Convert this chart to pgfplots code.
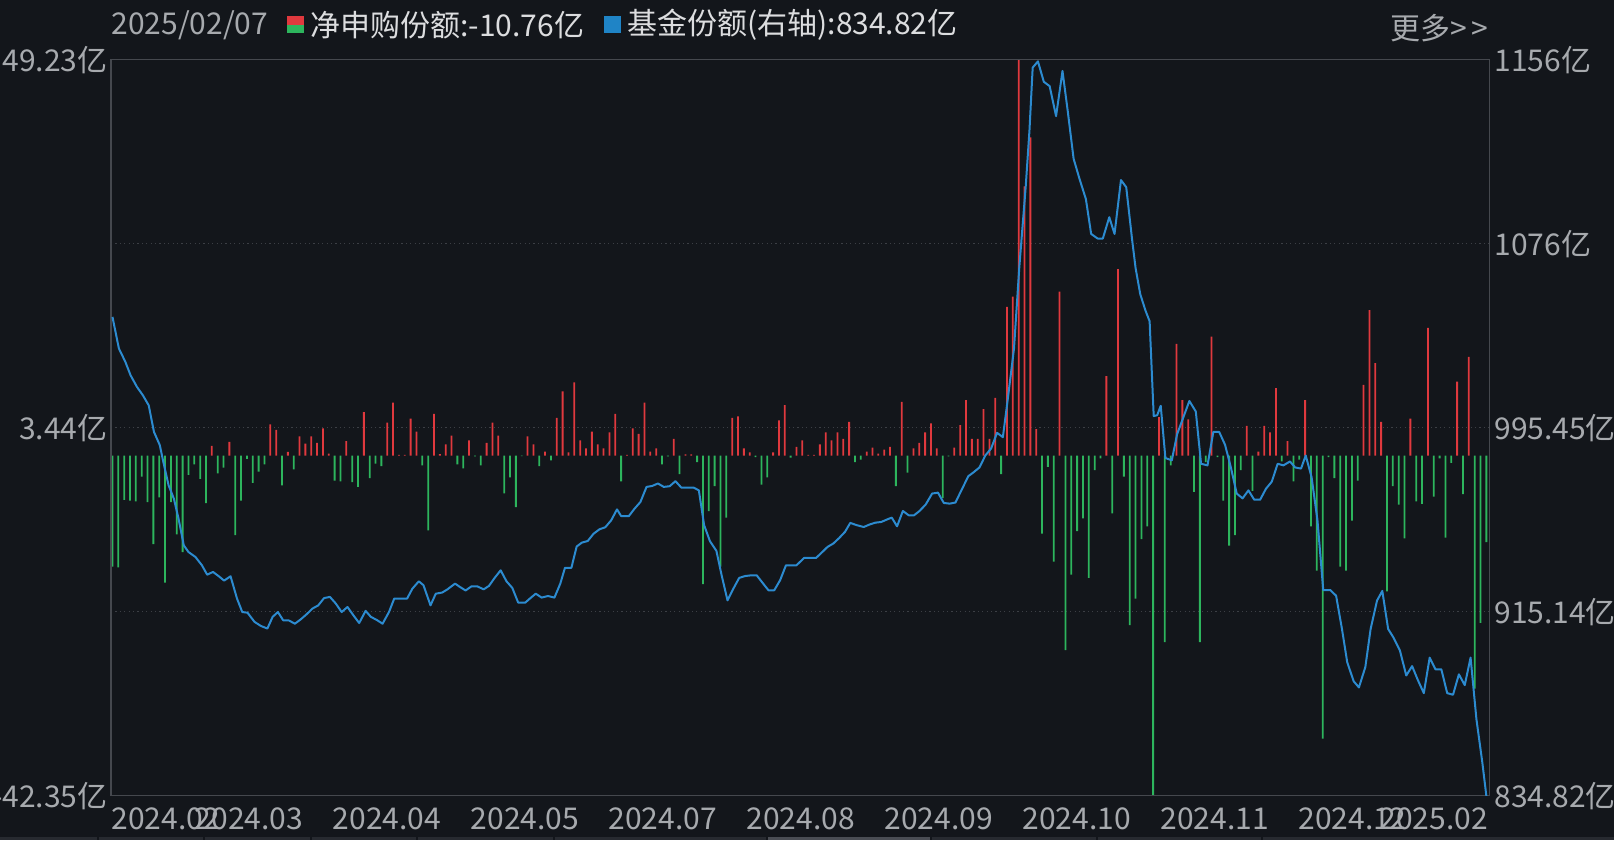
\documentclass[border=0pt]{standalone}
\usepackage{pgfplots}
\pgfplotsset{compat=1.18}
\usepackage{pgfplotstable}
\usepackage{fontspec}
\setmainfont{Noto Sans CJK SC}

\definecolor{bg}{HTML}{13161B}
\definecolor{framec}{HTML}{45484E}
\definecolor{gridc}{HTML}{3C3F45}
\definecolor{lbl}{HTML}{A7AAAE}
\definecolor{txt}{HTML}{DCDDDF}
\definecolor{upred}{HTML}{E0393E}
\definecolor{dngreen}{HTML}{2DB55D}
\definecolor{lineblue}{HTML}{2C8BD0}
\definecolor{keyblue}{HTML}{1F84C6}
\definecolor{strip}{HTML}{272A30}
\definecolor{stripsel}{HTML}{4A4D54}

% net subscription per trading day (yi shares)
\pgfplotstableread{
x y
0 -13.8
1 -13.9
2 -5.5
3 -5.6
4 -5.7
5 -2.6
6 -5.8
7 -11.0
8 -5.2
9 -15.8
10 -5.8
11 -9.8
12 -12.0
13 -2.4
14 -1.1
15 -2.9
16 -5.9
17 1.2
18 -2.2
19 -1.5
20 1.7
21 -9.9
22 -5.6
23 -0.4
24 -3.4
25 -2.0
26 -1.1
27 3.9
28 3.2
29 -3.7
30 0.46
31 -1.7
32 2.4
33 1.5
34 2.4
35 1.6
36 3.4
37 0.25
38 -3.1
39 -3.2
40 1.8
41 -3.3
42 -3.9
43 5.4
44 -2.8
45 -1.0
46 -1.3
47 4.1
48 6.6
49 0.1
50 0.1
51 4.6
52 3.0
53 -1.2
54 -9.3
55 5.2
56 0.2
57 1.4
58 2.5
59 -1.1
60 -1.6
61 1.9
62 -0.1
63 -1.2
64 1.6
65 4.1
66 2.5
67 -4.7
68 -2.7
69 -6.4
70 -0.05
71 2.4
72 1.4
73 -1.3
74 0.5
75 -0.6
76 4.7
77 8.0
78 0.4
79 9.1
80 1.9
81 0.9
82 3.0
83 1.4
84 0.9
85 2.9
86 5.2
87 -3.2
88 0.1
89 3.4
90 2.7
91 6.6
92 0.5
93 0.9
94 -1.1
95 -0.1
96 2.1
97 -2.3
98 0.15
99 0.15
100 -0.8
101 -16.0
102 -6.9
103 -3.8
104 -13.8
105 -7.7
106 4.7
107 4.9
108 0.9
109 0.4
110 -0.2
111 -3.6
112 -2.7
113 0.4
114 4.4
115 6.3
116 -0.25
117 1.1
118 1.9
119 0.1
120 0.1
121 1.4
122 2.9
123 1.9
124 2.9
125 2.1
126 4.2
127 -0.8
128 -0.5
129 0.5
130 1.0
131 0.25
132 0.75
133 1.1
134 -3.8
135 6.7
136 -2.1
137 0.9
138 1.6
139 2.9
140 4.0
141 0.9
142 -5.3
143 -0.1
144 1.0
145 3.8
146 6.9
147 2.1
148 2.1
149 5.8
150 2.1
151 7.2
152 -2.3
153 18.5
154 19.8
155 49.23
156 33.5
157 39.6
158 3.3
159 -9.7
160 -1.4
161 -13.2
162 20.4
163 -24.2
164 -14.8
165 -9.4
166 -7.8
167 -15.2
168 -1.8
169 -0.35
170 9.9
171 -7.2
172 23.2
173 -2.6
174 -21.1
175 -17.8
176 -10.4
177 -8.8
178 -42.35
179 4.8
180 -23.2
181 -1.2
182 13.9
183 6.9
184 4.5
185 -4.5
186 -23.2
187 -0.8
188 14.8
189 -0.2
190 -5.6
191 -11.2
192 -9.9
193 -1.8
194 3.7
195 -4.4
196 0.5
197 3.7
198 2.9
199 8.4
200 -0.7
201 1.8
202 -3.2
203 -0.5
204 6.9
205 -8.8
206 -14.3
207 -35.2
208 -0.2
209 -2.8
210 -13.8
211 -14.3
212 -8.1
213 -3.1
214 8.8
215 18.1
216 11.5
217 4.2
218 -16.9
219 -3.8
220 -6.1
221 -10.3
222 4.6
223 -5.7
224 -6.0
225 15.9
226 -5.1
227 -0.35
228 -10.2
229 -0.9
230 9.2
231 -4.8
232 12.3
233 -29.0
234 -20.8
235 -10.76
}\netflow

% fund shares (right axis, yi shares)
\pgfplotstableread{
x y
0 1043.9
1.1 1030.1
2.2 1024.3
3.1 1018.4
4.2 1013.3
5.2 1009.7
6.2 1005.3
7.1 993.7
8.1 987.9
8.7 980.6
9.6 970.4
10.5 964.6
11.3 955.9
12.2 944.2
13.0 941.3
14.2 939.1
15.3 935.5
16.2 931.4
17.2 932.6
18.2 930.7
19.1 928.8
20.2 930.7
21.3 921.0
22.2 915.1
23.1 914.8
24.3 910.8
25.4 909.0
26.5 907.9
27.4 913.0
28.3 915.1
29.2 911.5
30.2 911.4
31.2 910.0
32.2 911.9
33.2 914.1
34.2 916.6
35.2 918.0
36.2 921.2
37.2 921.7
38.2 918.8
39.2 915.1
40.2 917.3
41.2 913.7
42.2 910.3
43.3 915.6
44.2 913.0
45.3 911.5
46.2 910.0
47.3 915.1
48.2 921.0
49.3 921.0
50.4 921.0
51.3 925.3
52.4 928.5
53.2 926.8
54.4 918.0
55.3 923.1
56.4 923.6
57.3 925.0
58.6 927.5
59.4 926.1
60.4 924.5
61.4 926.3
62.4 926.3
63.5 925.0
64.4 926.5
65.4 930.1
66.4 933.3
67.4 928.5
68.4 925.6
69.4 919.2
70.6 919.2
71.5 921.2
72.4 923.1
73.4 921.4
74.5 922.1
75.6 921.4
76.6 927.5
77.4 934.4
78.5 934.4
79.4 943.7
80.3 945.4
81.3 946.1
82.3 949.3
83.3 951.2
84.3 952.1
85.3 955.1
86.3 959.9
87.0 957.0
88.3 956.9
89.3 960.2
90.3 963.1
91.35 969.7
92.3 970.1
93.3 971.2
94.3 969.7
95.3 970.0
96.3 972.2
97.3 969.4
98.3 969.4
99.4 969.4
100.3 968.2
101.2 953.0
102.2 946.0
103.3 941.8
104.2 931.1
105.2 920.2
106.2 925.3
107.2 930.0
108.2 930.8
109.2 931.1
110.2 931.1
111.3 927.5
112.2 924.6
113.2 924.6
114.2 929.0
115.2 935.5
116.4 935.5
117.0 935.5
118.3 938.7
120.35 938.7
121.3 941.0
122.3 943.5
123.3 945.0
124.3 947.4
125.3 950.1
126.2 954.0
127.3 953.0
128.5 952.2
129.5 953.3
130.5 954.1
131.5 954.4
132.4 955.4
133.3 956.3
134.2 952.5
135.2 959.2
136.2 957.3
137.1 957.3
138.0 959.1
139.1 962.0
140.2 966.8
141.2 967.2
142.2 962.7
143.2 962.4
144.2 962.9
145.2 968.2
146.4 974.4
147.3 976.1
148.3 978.2
149.3 983.4
150.3 986.5
151.3 993.3
152.3 991.4
153.1 1007.2
154.2 1030.0
155.1 1065.2
156.2 1100.5
156.85 1125.3
157.4 1152.7
158.3 1155.4
159.3 1146.5
160.3 1144.6
161.4 1131.5
162.5 1151.2
163.4 1133.6
164.4 1112.9
165.4 1104.2
166.5 1095.3
167.4 1080.1
168.5 1078.1
169.4 1078.1
170.5 1087.4
171.4 1080.1
172.5 1103.6
173.4 1100.5
174.4 1077.7
175.0 1065.2
175.8 1053.8
176.7 1046.6
177.4 1042.0
178.1 1000.6
178.7 1001.0
179.3 1005.1
180.1 982.3
181.2 981.3
182.1 992.7
183.0 998.9
184.2 1007.2
185.3 1002.6
186.2 979.8
187.3 979.1
188.3 993.7
189.3 993.7
190.3 988.1
191.3 978.2
192.3 966.8
193.3 964.7
194.3 968.2
195.3 964.1
196.3 964.1
197.3 968.9
198.3 972.0
199.3 979.8
200.3 979.1
201.4 980.8
202.3 978.2
203.3 977.7
204.1 983.4
205.1 974.0
206.1 955.4
207.1 924.7
208.3 924.7
209.3 922.2
210.3 907.7
211.2 893.2
212.3 884.9
213.2 882.2
214.3 891.1
215.2 907.7
216.3 920.1
217.2 924.3
218.2 907.7
219.1 904.0
220.2 898.4
221.3 887.4
222.3 891.5
223.3 885.3
224.3 879.7
225.3 895.2
226.3 890.1
227.3 890.1
228.3 879.7
229.3 879.0
230.3 887.9
231.3 883.2
232.3 895.2
233.3 868.3
234.3 849.6
235 834.82
}\shares

\pgfplotsset{
  panel/.style={
    at={(55.5pt,22pt)}, anchor=south west, scale only axis,
    width=689pt, height=368pt,
    xmin=-0.25, xmax=235.45,
    axis line style={draw=framec, line width=0.5pt},
    major tick length=0pt,
    tick style={draw=none},
    tick label style={font=\fontsize{15}{18}\selectfont, text=lbl, inner sep=0pt},
  },
}

\begin{document}
\begin{tikzpicture}[x=0.5pt, y=0.5pt, trim left=0pt, trim right=807pt]
\fill[bg] (0,0) rectangle (1614,840);

% bottom tab strip
\fill[strip] (0,0) rectangle (1614,3);
\fill[stripsel] (767,0) rectangle (931,3);
\foreach \sx in {98,204,311,417,554,767,931,1097,1262}
  \draw[bg, line width=0.6pt] (\sx,0) -- (\sx,3);

\begin{axis}[panel,
  ymin=-42.35, ymax=49.23,
  xtick={-0.22,14.03,37.64,61.22,84.81,108.40,132.00,155.59,179.18,202.78,216.64},
  xticklabels={2024.02,2024.03,2024.04,2024.05,2024.07,2024.08,2024.09,2024.10,2024.11,2024.12,2025.02},
  xticklabel style={anchor=base west, yshift=-17pt},
  ytick={-42.35,3.44,49.23},
  yticklabels={-42.35亿,3.44亿,49.23亿},
  yticklabel style={anchor=east, xshift=-1.5pt},
  extra y ticks={-19.455,26.335},
  extra y tick labels={},
  ymajorgrids,
  grid style={gridc, line width=0.5pt, dash pattern=on 0.6pt off 1.6pt},
  extra y tick style={grid=major},
  ybar, bar width=0.9pt,
]
\addplot[fill=upred, draw=none, bar shift=0pt, restrict y to domain=0:60] table {\netflow};
\addplot[fill=dngreen, draw=none, bar shift=0pt, restrict y to domain=-60:0] table {\netflow};
\end{axis}

\begin{axis}[panel,
  ymin=834.82, ymax=1156,
  xtick=\empty,
  ytick={834.82,915.115,995.41,1075.705,1156},
  yticklabels={834.82亿,915.14亿,995.45亿,1076亿,1156亿},
  yticklabel pos=right,
  yticklabel style={anchor=west, xshift=2.5pt},
]
\addplot[lineblue, line width=1pt, line join=round, mark=none] table {\shares};
\end{axis}

% header row
\begin{scope}[every node/.style={font=\fontsize{15}{18}\selectfont, inner sep=0pt, anchor=west}]
\node[text=lbl] at (111,815) {2025/02/07};
\fill[upred] (287,815.25) rectangle (304,823.5);
\fill[dngreen] (287,807) rectangle (304,815.25);
\node[text=txt] at (310,815) {净申购份额:-10.76亿};
\fill[keyblue] (604,807) rectangle (621,823.5);
\node[text=txt] at (627,815) {基金份额(右轴):834.82亿};
\node[text=lbl] at (1390,812) {更多>\kern2pt>};
\end{scope}
\end{tikzpicture}
\end{document}
